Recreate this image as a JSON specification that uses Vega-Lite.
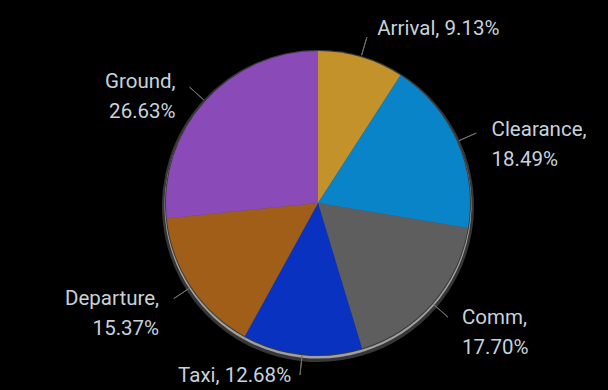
{
  "$schema": "https://vega.github.io/schema/vega-lite/v6.json",
  "width": 580,
  "height": 374,
  "autosize": {"type": "none"},
  "padding": {"left": 28, "top": 16, "right": 0, "bottom": 0},
  "background": "black",
  "config": {"view": {"stroke": null}},
  "data": {
    "values": [
      {"category": "Arrival", "value": 9.13, "order": 1, "label": "Arrival, 9.13%"},
      {"category": "Clearance", "value": 18.49, "order": 2, "label": "Clearance,\n18.49%"},
      {"category": "Comm", "value": 17.70, "order": 3, "label": "Comm,\n17.70%"},
      {"category": "Taxi", "value": 12.68, "order": 4, "label": "Taxi, 12.68%"},
      {"category": "Departure", "value": 15.37, "order": 5, "label": "Departure,\n15.37%"},
      {"category": "Ground", "value": 26.63, "order": 6, "label": "Ground,\n26.63%"}
    ]
  },
  "transform": [
    {"stack": "value", "groupby": [], "sort": [{"field": "order"}], "as": ["v0", "v1"]},
    {"calculate": "(datum.v0 + datum.v1) / 2", "as": "mid"}
  ],
  "layer": [
    {
      "mark": {"type": "arc", "radius": 156, "fill": "#9a9a9a", "opacity": 0.35, "yOffset": 3},
      "encoding": {
        "theta": {"field": "v0", "type": "quantitative", "scale": {"domain": [0, 100]}},
        "theta2": {"field": "v1"}
      }
    },
    {
      "mark": {"type": "arc", "radius": 153.5, "fill": "#bcbcbc", "opacity": 0.8, "yOffset": 2},
      "encoding": {
        "theta": {"field": "v0", "type": "quantitative", "scale": {"domain": [0, 100]}},
        "theta2": {"field": "v1"}
      }
    },
    {
      "mark": {"type": "arc", "radius": 153, "fill": "#3a3a3a"},
      "encoding": {
        "theta": {"field": "v0", "type": "quantitative", "scale": {"domain": [0, 100]}},
        "theta2": {"field": "v1"}
      }
    },
    {
      "mark": {"type": "arc", "radius": 152},
      "encoding": {
        "theta": {"field": "v0", "type": "quantitative", "scale": {"domain": [0, 100]}},
        "theta2": {"field": "v1"},
        "color": {
          "field": "category",
          "type": "nominal",
          "scale": {
            "domain": ["Arrival", "Clearance", "Comm", "Taxi", "Departure", "Ground"],
            "range": ["#c3922a", "#0a84c8", "#5e5e5e", "#0a32c0", "#a05e18", "#8a4ab8"]
          },
          "legend": null
        }
      }
    },
    {
      "mark": {"type": "arc", "radius": 173, "radius2": 154, "stroke": "#707070", "strokeWidth": 1, "fillOpacity": 0},
      "encoding": {
        "theta": {"field": "mid", "type": "quantitative", "scale": {"domain": [0, 100]}},
        "theta2": {"field": "mid"}
      }
    },
    {
      "mark": {
        "type": "text",
        "radius": 181,
        "font": "Roboto",
        "fontSize": 20.5,
        "lineHeight": 30,
        "lineBreak": "\n",
        "color": "#c8d2dc",
        "baseline": "middle",
        "align": {"expr": "datum.mid < 50 ? 'left' : 'right'"},
        "dx": {"expr": "datum.mid < 50 ? 8 : -8"},
        "dy": {"expr": "-7 * max(0, -cos(datum.mid / 100 * 2 * PI))"}
      },
      "encoding": {
        "theta": {"field": "mid", "type": "quantitative", "scale": {"domain": [0, 100]}},
        "text": {"field": "label"}
      }
    }
  ]
}
